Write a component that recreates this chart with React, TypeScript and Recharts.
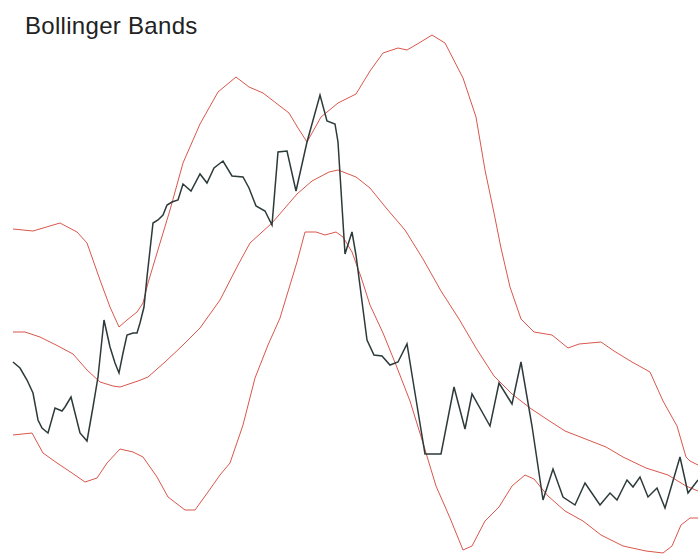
import { LineChart, Line, XAxis, YAxis } from 'recharts';

// closing price, [day, value]
const price: [number, number][] = [
  [0, 238], [7, 232], [14, 220], [20, 207], [25, 180], [29, 172], [35, 167],
  [42, 192], [49, 189], [52, 193], [58, 203], [67, 167], [74, 159], [80, 193],
  [85, 223], [91, 280], [97, 253], [102, 237], [106, 227], [110, 247], [114, 265],
  [120, 267], [124, 267], [127, 277], [131, 293], [134, 323], [137, 350], [140, 377],
  [145, 380], [150, 385], [154, 395], [159, 398], [165, 400], [170, 416], [178, 409],
  [187, 426], [194, 417], [201, 432], [210, 439], [219, 424], [230, 423], [236, 412],
  [243, 394], [252, 389], [259, 375], [265, 448], [274, 449], [283, 409], [294, 458],
  [307, 505], [314, 479], [322, 476], [325, 458], [332, 346], [339, 368], [343, 345],
  [354, 260], [361, 245], [369, 244], [377, 235], [385, 238], [394, 256], [401, 213],
  [412, 146], [428, 146], [441, 213], [452, 171], [459, 206], [477, 174], [486, 217],
  [499, 196], [508, 238], [519, 174], [530, 100], [540, 131], [550, 103], [562, 95],
  [572, 117], [587, 95], [597, 107], [604, 100], [614, 120], [620, 113], [627, 123],
  [635, 103], [644, 112], [652, 92], [667, 143], [675, 107], [685, 120],
];

const upper: [number, number][] = [
  [0, 371], [20, 369], [47, 377], [64, 368], [74, 357], [87, 320], [97, 293],
  [106, 273], [114, 280], [124, 288], [130, 297], [135, 317], [144, 347], [157, 390],
  [170, 437], [187, 476], [205, 508], [223, 523], [236, 513], [250, 507], [263, 497],
  [276, 487], [285, 472], [294, 458], [308, 483], [325, 497], [343, 506], [357, 529],
  [370, 547], [385, 552], [394, 550], [406, 557], [419, 565], [432, 557], [450, 522],
  [463, 483], [472, 430], [481, 387], [488, 352], [497, 313], [508, 281], [521, 268],
  [539, 265], [555, 252], [566, 256], [588, 258], [601, 249], [619, 238], [637, 228],
  [650, 199], [664, 174], [673, 143], [677, 139], [685, 135],
];

const middle: [number, number][] = [
  [0, 268], [12, 268], [27, 263], [45, 254], [60, 246], [74, 230], [87, 218],
  [100, 214], [107, 213], [125, 219], [135, 223], [152, 238], [169, 254], [187, 272],
  [207, 300], [225, 335], [237, 357], [259, 377], [284, 406], [299, 419], [316, 428],
  [325, 430], [343, 423], [357, 412], [374, 391], [392, 370], [410, 341], [428, 309],
  [446, 281], [463, 252], [481, 224], [499, 206], [517, 192], [535, 180], [552, 169],
  [570, 162], [593, 153], [610, 143], [633, 132], [655, 125], [673, 114], [685, 109],
];

const lower: [number, number][] = [
  [0, 165], [19, 167], [30, 147], [44, 137], [59, 127], [72, 118], [84, 122],
  [94, 137], [107, 151], [120, 148], [130, 143], [144, 123], [155, 103], [172, 90],
  [182, 90], [195, 108], [207, 125], [217, 137], [230, 175], [242, 222], [255, 255],
  [267, 282], [277, 315], [284, 338], [292, 368], [303, 368], [312, 365], [323, 368],
  [330, 363], [339, 348], [348, 323], [357, 295], [370, 267], [383, 235], [397, 199],
  [410, 157], [423, 114], [437, 82], [450, 50], [459, 54], [472, 79], [486, 93],
  [499, 114], [512, 125], [521, 121], [535, 104], [552, 89], [570, 79], [588, 65],
  [610, 54], [633, 49], [650, 47], [659, 54], [668, 75], [677, 82], [685, 82],
];

const toRows = (pts: [number, number][]) => pts.map(([t, v]) => ({ t, v }));

const BAND = '#d9574c';
const PRICE = '#2d3a3a';

export default function App() {
  return (
    <div
      style={{
        position: 'fixed',
        left: 0,
        top: 0,
        width: 698,
        height: 556,
        background: '#fff',
      }}
    >
      <div
        style={{
          position: 'absolute',
          left: 25,
          top: 14,
          fontFamily: '"Liberation Sans", Arial, sans-serif',
          fontSize: 24,
          letterSpacing: 0.3,
          color: '#222',
          lineHeight: 1,
        }}
      >
        Bollinger Bands
      </div>
      <LineChart width={698} height={556} margin={{ top: 0, right: 0, bottom: 0, left: 0 }}>
        <XAxis type="number" dataKey="t" domain={[-13, 685]} hide allowDataOverflow />
        <YAxis type="number" domain={[44, 600]} hide allowDataOverflow />
        <Line data={toRows(upper)} dataKey="v" type="linear" stroke={BAND} strokeWidth={1} dot={false} activeDot={false} isAnimationActive={false} />
        <Line data={toRows(middle)} dataKey="v" type="linear" stroke={BAND} strokeWidth={1} dot={false} activeDot={false} isAnimationActive={false} />
        <Line data={toRows(lower)} dataKey="v" type="linear" stroke={BAND} strokeWidth={1} dot={false} activeDot={false} isAnimationActive={false} />
        <Line data={toRows(price)} dataKey="v" type="linear" stroke={PRICE} strokeWidth={1.5} dot={false} activeDot={false} isAnimationActive={false} />
      </LineChart>
    </div>
  );
}
